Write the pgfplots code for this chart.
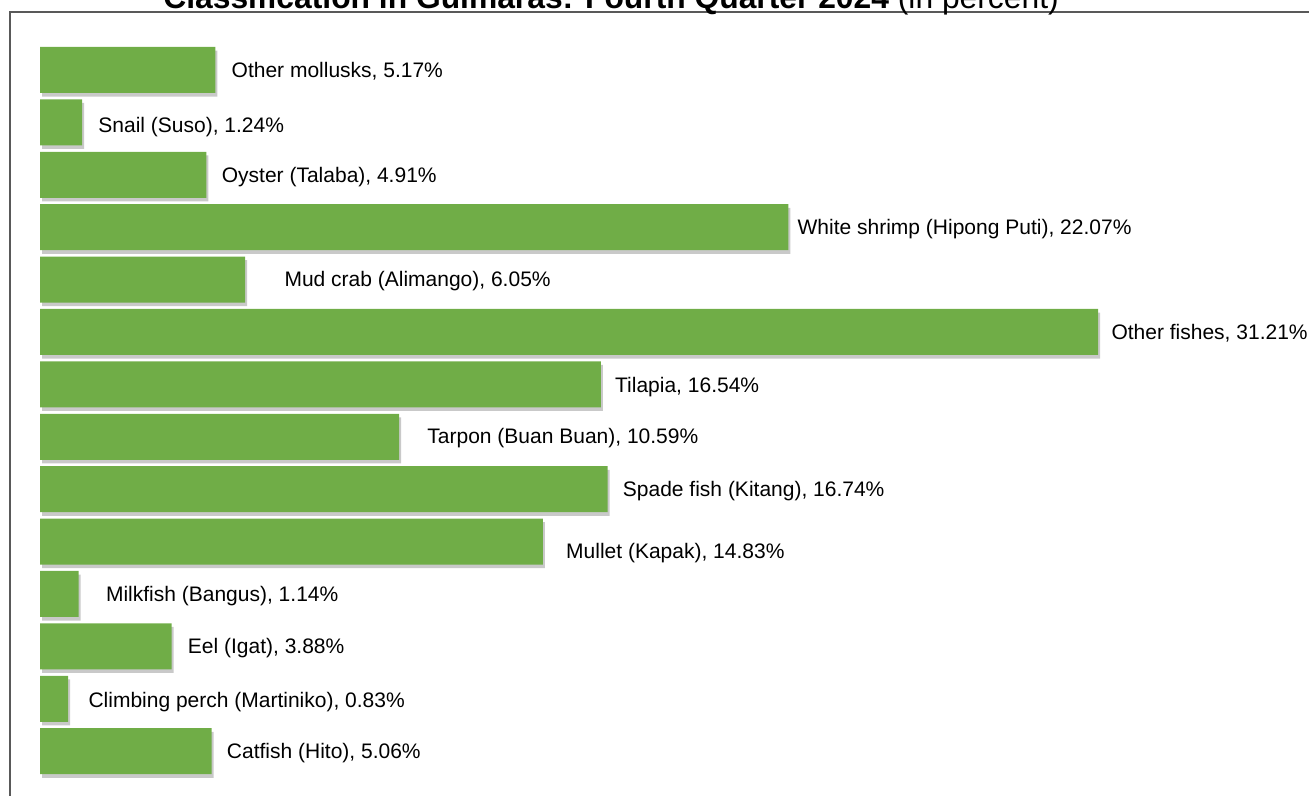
\documentclass[border=0pt]{standalone}
\usepackage{pgfplots}
\pgfplotsset{compat=1.18}
\usepackage{fontspec}
\setmainfont{Liberation Sans}
\usetikzlibrary{shadows}
\definecolor{bargreen}{HTML}{70AD47}
\definecolor{framegray}{HTML}{595959}
\begin{document}
\begin{tikzpicture}[x=1pt,y=1pt]
\useasboundingbox (0,0) rectangle (654.5,398);
\clip (0,0) rectangle (654.5,398);
\begin{axis}[
  at={(0,0)}, anchor=south west,
  scale only axis,
  width=654.5pt, height=398pt,
  xmin=-1.18, xmax=37.43,
  ymin=-0.855, ymax=14.336,
  axis lines=none,
  ticks=none,
  clip=false,
  xbar,
  bar width=23pt,
]
\addplot[fill=bargreen, draw=none,
  drop shadow={shadow xshift=1pt, shadow yshift=-1.8pt, opacity=0.3, fill=black!70}]
coordinates {
(5.17,13) (1.24,12) (4.91,11) (22.07,10) (6.05,9) (31.21,8) (16.54,7)
(10.59,6) (16.74,5) (14.83,4) (1.14,3) (3.88,2) (0.83,1) (5.06,0)
};
\begin{scope}[every node/.style={anchor=west, font=\fontsize{10.5}{12}\selectfont, inner sep=0pt, yshift=-0.8pt}]
\node[xshift=8pt]  at (axis cs:5.17,13) {Other mollusks, 5.17\%};
\node[xshift=8pt]  at (axis cs:1.24,11.95) {Snail (Suso), 1.24\%};
\node[xshift=7.5pt] at (axis cs:4.91,10.98) {Oyster (Talaba), 4.91\%};
\node[xshift=4.5pt] at (axis cs:22.07,10) {White shrimp (Hipong Puti), 22.07\%};
\node[xshift=19.5pt] at (axis cs:6.05,9.0) {Mud crab (Alimango), 6.05\%};
\node[xshift=6.5pt] at (axis cs:31.21,8.0) {Other fishes, 31.21\%};
\node[xshift=7pt]  at (axis cs:16.54,6.97) {Tilapia, 16.54\%};
\node[xshift=14pt] at (axis cs:10.59,6.0) {Tarpon (Buan Buan), 10.59\%};
\node[xshift=7.5pt] at (axis cs:16.74,5.0) {Spade fish (Kitang), 16.74\%};
\node[xshift=11.5pt] at (axis cs:14.83,3.82) {Mullet (Kapak), 14.83\%};
\node[xshift=13.5pt] at (axis cs:1.14,3.0) {Milkfish (Bangus), 1.14\%};
\node[xshift=8pt]  at (axis cs:3.88,2.0) {Eel (Igat), 3.88\%};
\node[xshift=10pt] at (axis cs:0.83,0.97) {Climbing perch (Martiniko), 0.83\%};
\node[xshift=7.5pt] at (axis cs:5.06,0.0) {Catfish (Hito), 5.06\%};
\end{scope}
\draw[framegray, line width=1pt] (rel axis cs:0.00764,-0.1) |- (rel axis cs:1.1,0.9843);
\node[anchor=base, inner sep=0pt, font=\fontsize{15.9}{18}\selectfont] at (rel axis cs:0.4668,0.9897)
  {\textbf{Classification in Guimaras: Fourth Quarter 2024} (in percent)};
\end{axis}
\end{tikzpicture}
\end{document}
